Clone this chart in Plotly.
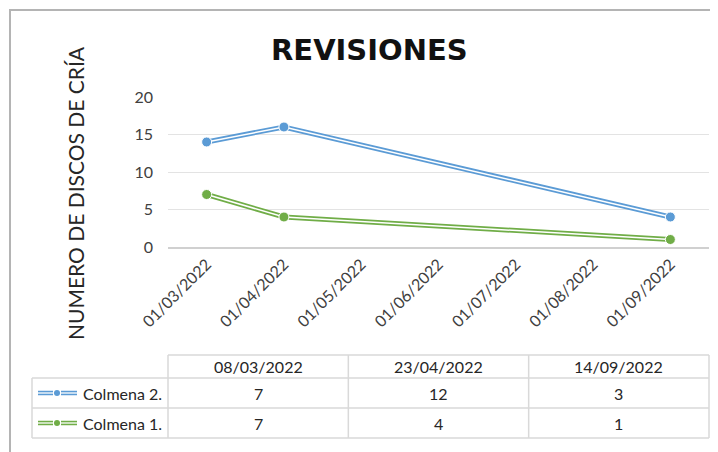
import pandas as pd
import plotly.graph_objects as go

# ---------------- data ----------------
fechas = ["08/03/2022", "23/04/2022", "14/09/2022"]
colmena2 = [7, 12, 3]
colmena1 = [7, 4, 1]
series_names = ["Colmena 2.", "Colmena 1."]
series_colors = ["#5B9BD5", "#70AD47"]
tick_start, tick_end = "2022-03-01", "2022-09-01"
y_ticks = [0, 5, 10, 15, 20]
titulo = "REVISIONES"
eje_y = "NUMERO DE DISCOS DE CRÍA"

# ---------------- layout constants (page pixel coordinates) ----------------
W, H = 718, 452
OFF = 8  # default body margin of the page
L, R, T, B = 168, 9, 97, 205
PW, PH = W - L - R, H - T - B
FONT = "Lato"
TXT = "#404040"
GRID = "#e3e3e3"
TBL = "#d9d9d9"


def px(xp):
    return (xp - L) / PW


def py(yp):
    return (H - B - yp) / PH


# month-based date axis (Excel style: base unit = months)
months = pd.date_range(tick_start, tick_end, freq="MS")
tick_labels = [m.strftime("%d/%m/%Y") for m in months]
tick_pos = list(range(len(months)))
start = months[0]
dates = pd.to_datetime(fechas, dayfirst=True)
xpos = [(d.year * 12 + d.month) - (start.year * 12 + start.month) for d in dates]

# stacked line values
stack1 = list(colmena1)
stack2 = [a + b for a, b in zip(colmena1, colmena2)]
plot_series = [(series_names[0], stack2, series_colors[0]),
               (series_names[1], stack1, series_colors[1])]

fig = go.Figure()
for name, vals, col in plot_series:
    fig.add_trace(go.Scatter(x=xpos, y=vals, mode="lines", line=dict(color=col, width=5),
                             hoverinfo="skip", showlegend=False))
    fig.add_trace(go.Scatter(x=xpos, y=vals, mode="lines", line=dict(color="white", width=1.5),
                             hoverinfo="skip", showlegend=False))
    fig.add_trace(go.Scatter(x=xpos, y=vals, mode="markers", name=name,
                             marker=dict(color=col, size=10, line=dict(color="white", width=1)),
                             showlegend=False))

shapes = []
annotations = []

# outer chart frame
shapes.append(dict(type="rect", xref="paper", yref="paper",
                   x0=px(10), x1=px(740), y0=py(10), y1=py(470),
                   line=dict(color="#b4b4b4", width=2), layer="below"))

# ---------------- data table ----------------
col_edges = [L + k * PW / 3 for k in range(4)]
leg_left = 32
row_y = [355, 378, 408, 438]
ln = dict(color=TBL, width=1.5)
shapes.append(dict(type="line", xref="paper", yref="paper",
                   x0=px(col_edges[0]), x1=px(col_edges[-1]), y0=py(row_y[0]), y1=py(row_y[0]), line=ln))
for yy in row_y[1:]:
    shapes.append(dict(type="line", xref="paper", yref="paper",
                       x0=px(leg_left), x1=px(col_edges[-1]), y0=py(yy), y1=py(yy), line=ln))
shapes.append(dict(type="line", xref="paper", yref="paper",
                   x0=px(leg_left), x1=px(leg_left), y0=py(row_y[1]), y1=py(row_y[-1]), line=ln))
for xx in col_edges:
    shapes.append(dict(type="line", xref="paper", yref="paper",
                       x0=px(xx), x1=px(xx), y0=py(row_y[0]), y1=py(row_y[-1]), line=ln))

centers = [(col_edges[k] + col_edges[k + 1]) / 2 for k in range(3)]
hdr_y = (row_y[0] + row_y[1]) / 2
for c, f in zip(centers, fechas):
    annotations.append(dict(x=px(c), y=py(hdr_y), xref="paper", yref="paper", text=f,
                            showarrow=False, xanchor="center", yanchor="middle",
                            font=dict(family=FONT, size=16, color="#262626")))
table_rows = [(series_names[0], colmena2, series_colors[0]),
              (series_names[1], colmena1, series_colors[1])]
for i, (name, vals, col) in enumerate(table_rows):
    ry = (row_y[i + 1] + row_y[i + 2]) / 2
    for c, v in zip(centers, vals):
        annotations.append(dict(x=px(c), y=py(ry), xref="paper", yref="paper", text=str(v),
                                showarrow=False, xanchor="center", yanchor="middle",
                                font=dict(family=FONT, size=16, color="#262626")))
    annotations.append(dict(x=px(81), y=py(ry), xref="paper", yref="paper", text=name,
                            showarrow=False, xanchor="left", yanchor="middle",
                            font=dict(family=FONT, size=16, color="#262626")))
    # legend key: double line with dot
    for xa, xb in [(38, 53), (61, 77)]:
        shapes.append(dict(type="line", xref="paper", yref="paper", x0=px(xa), x1=px(xb),
                           y0=py(ry), y1=py(ry), line=dict(color=col, width=4.5)))
        shapes.append(dict(type="line", xref="paper", yref="paper", x0=px(xa), x1=px(xb),
                           y0=py(ry), y1=py(ry), line=dict(color="white", width=1.3)))
    shapes.append(dict(type="circle", xref="paper", yref="paper", x0=px(54), x1=px(60),
                       y0=py(ry + 3), y1=py(ry - 3), fillcolor=col, line=dict(color=col, width=0)))

# title and y title
annotations.append(dict(x=px(369), y=py(50), xref="paper", yref="paper", text=titulo,
                        showarrow=False, xanchor="center", yanchor="middle",
                        font=dict(family="DejaVu Sans", size=29, color="#111111", weight="bold")))
annotations.append(dict(x=px(75), y=py(193), xref="paper", yref="paper", text=eje_y,
                        showarrow=False, xanchor="center", yanchor="middle", textangle=-90,
                        font=dict(family=FONT, size=21, color="#262626")))

fig.update_layout(
    width=W - OFF, height=H - OFF,
    margin=dict(l=L - OFF, r=R, t=T - OFF, b=B, pad=0),
    paper_bgcolor="white", plot_bgcolor="white",
    shapes=shapes, annotations=annotations,
    font=dict(family=FONT, color=TXT),
    xaxis=dict(range=[-0.5, len(months) - 0.5], tickmode="array", tickvals=tick_pos,
               ticktext=tick_labels, tickangle=-45, showgrid=False, zeroline=False,
               showline=True, linecolor="#d0d0d0", linewidth=1.5, ticks="",
               tickfont=dict(family=FONT, size=16, color=TXT), fixedrange=True),
    yaxis=dict(range=[0, 20], tickmode="array", tickvals=y_ticks, showgrid=True,
               gridcolor=GRID, gridwidth=1.3, zeroline=False, showline=False, ticks="",
               ticklabelstandoff=14,
               tickfont=dict(family=FONT, size=16, color=TXT), fixedrange=True),
)

fig.write_html("out.html")
